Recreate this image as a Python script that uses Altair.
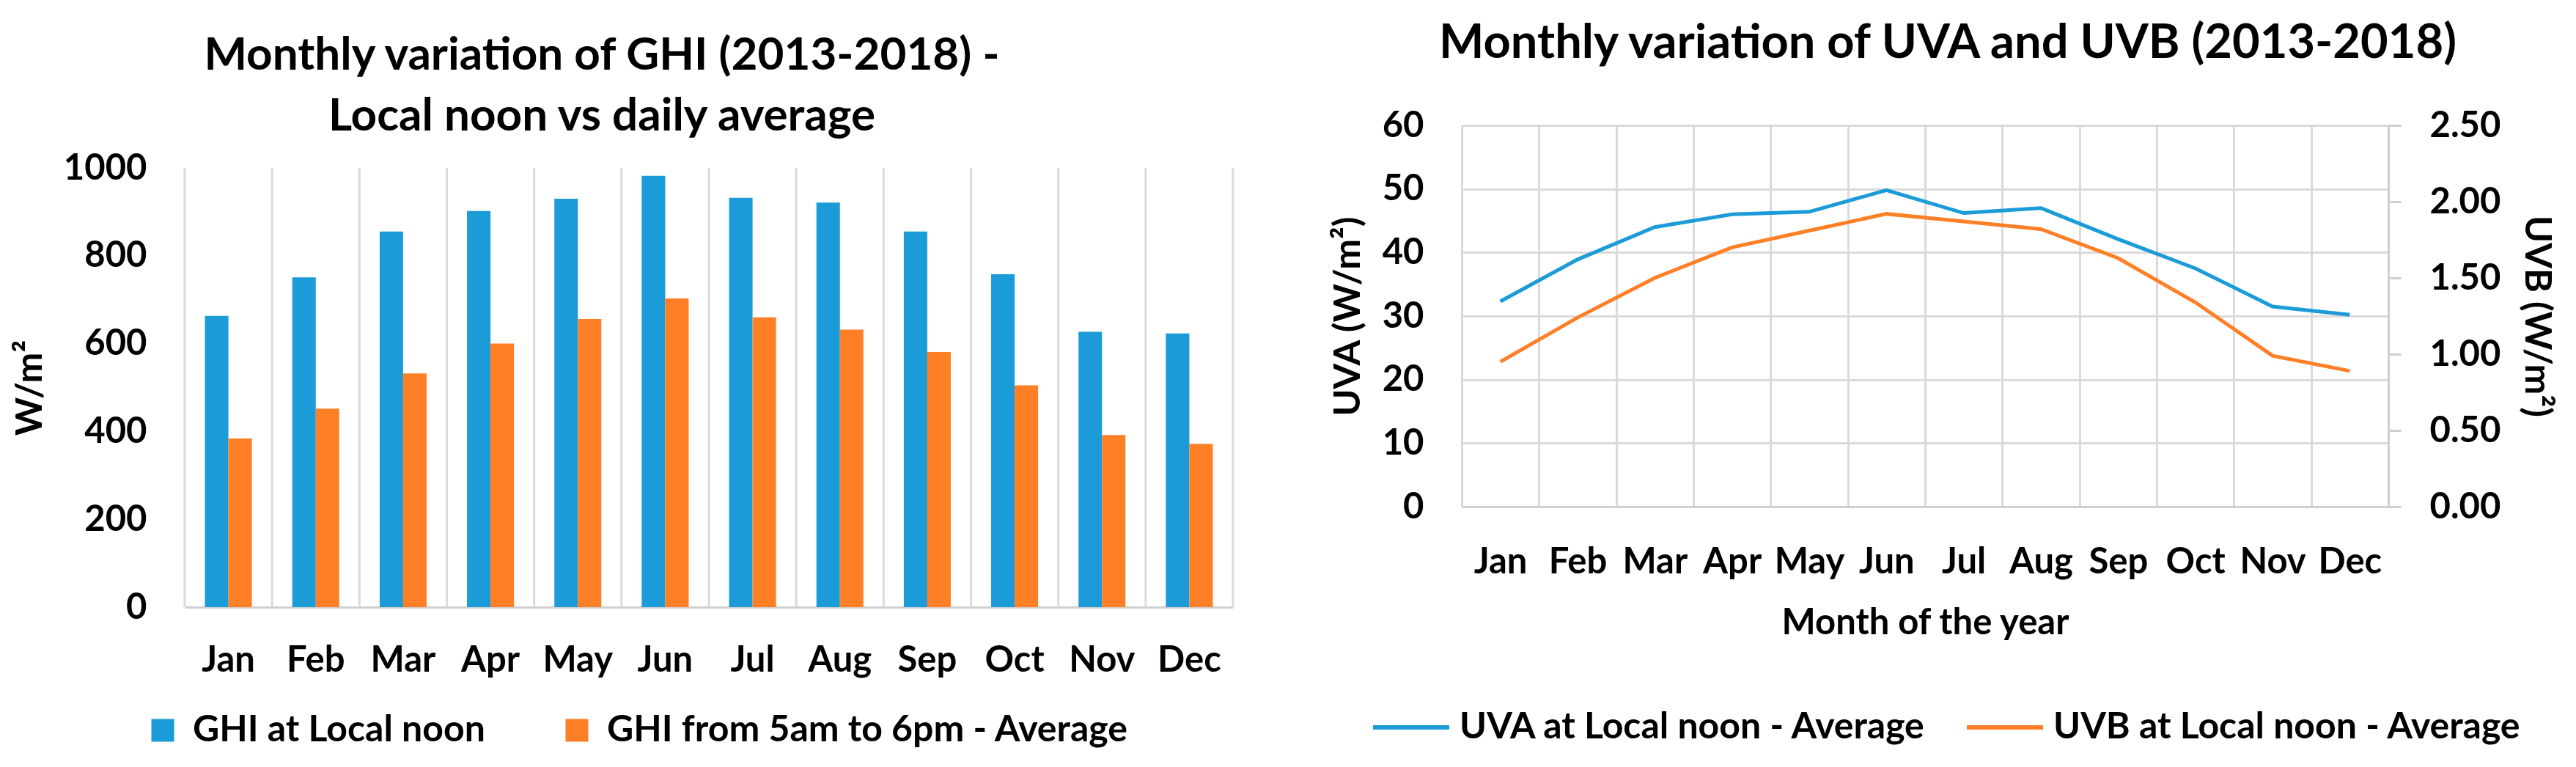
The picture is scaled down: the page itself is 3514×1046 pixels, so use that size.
import altair as alt
import pandas as pd

# ---------------- data ----------------
months = ["Jan", "Feb", "Mar", "Apr", "May", "Jun", "Jul", "Aug", "Sep", "Oct", "Nov", "Dec"]
ghi_noon = [663, 751, 855, 902, 930, 982, 932, 921, 855, 758, 627, 623]
ghi_avg = [384, 452, 532, 600, 656, 703, 660, 632, 581, 505, 392, 372]
uva_noon = [32.3, 38.9, 44.0, 46.0, 46.4, 49.8, 46.2, 47.0, 42.1, 37.5, 31.5, 30.2]
uvb_noon = [0.95, 1.24, 1.50, 1.70, 1.81, 1.92, 1.87, 1.82, 1.63, 1.34, 0.99, 0.89]

ghi_series = ["GHI at Local noon", "GHI from 5am to 6pm - Average"]
uv_series = ["UVA at Local noon - Average", "UVB at Local noon - Average"]
ghi_ticks = [0, 200, 400, 600, 800, 1000]
uva_ticks = [0, 10, 20, 30, 40, 50, 60]
uvb_ticks = [0, 0.5, 1.0, 1.5, 2.0, 2.5]
last_month = [months[-1]]

BLUE = "#1B9BD7"
ORANGE = "#FF7F27"
GRID = "#dadada"
AXISLINE = "#cfcfcf"
FONT = "Lato"

ghi_df = pd.DataFrame({
    "month": months * 2,
    "series": [ghi_series[0]] * 12 + [ghi_series[1]] * 12,
    "value": ghi_noon + ghi_avg,
})
month_df = pd.DataFrame({"month": months})
last_df = pd.DataFrame({"month": last_month})
uva_df = pd.DataFrame({"month": months, "val": uva_noon, "uvseries": [uv_series[0]] * 12})
uvb_df = pd.DataFrame({"month": months, "val": uvb_noon, "uvseries": [uv_series[1]] * 12})

# ---------------- left: GHI bars ----------------
LEFT_H = 657      # full panel height (plot occupies the lower 599 px)
LEFT_TOP = 58     # empty band above the 1000 gridline

yscale_left = alt.Scale(domain=[0, 1000], nice=False, range=[LEFT_H, LEFT_TOP])
xscale_left = alt.Scale(paddingInner=0, paddingOuter=0)
x_axis_left = alt.Axis(grid=False, ticks=False, labelAngle=0, title=None,
                       labelPadding=48, labelFontSize=49,
                       domainColor=AXISLINE, domainWidth=3)
y_axis_left = alt.Axis(values=ghi_ticks, format="d", title="W/m²", domain=False, ticks=False,
                       labelPadding=52, labelFontSize=49,
                       titleFontSize=50, titlePadding=20)

vgrid = alt.Chart(month_df).mark_rule(color=GRID, strokeWidth=3).encode(
    x=alt.X("month:N", sort=months, bandPosition=0, title=None, scale=xscale_left, axis=x_axis_left),
    y=alt.YDatum(0, scale=yscale_left, axis=y_axis_left, title="W/m²"),
    y2=alt.Y2Datum(1000),
)
vgrid_end = alt.Chart(last_df).mark_rule(color=GRID, strokeWidth=3).encode(
    x=alt.X("month:N", sort=months, bandPosition=1, title=None, scale=xscale_left, axis=x_axis_left),
    y=alt.YDatum(0, scale=yscale_left, axis=y_axis_left, title="W/m²"),
    y2=alt.Y2Datum(1000),
)

bars = alt.Chart(ghi_df).mark_bar().encode(
    x=alt.X("month:N", sort=months, title=None, scale=xscale_left, axis=x_axis_left),
    xOffset=alt.XOffset("series:N", sort=ghi_series,
                        scale=alt.Scale(paddingOuter=0.86, paddingInner=0)),
    y=alt.Y("value:Q", scale=yscale_left, axis=y_axis_left, title="W/m²"),
    color=alt.Color("series:N", sort=ghi_series,
                    scale=alt.Scale(domain=ghi_series, range=[BLUE, ORANGE]),
                    legend=alt.Legend(title=None, orient="none", direction="horizontal",
                                      legendX=-55, legendY=800,
                                      symbolType="square", symbolSize=961,
                                      symbolStrokeWidth=0, labelOffset=16,
                                      columnPadding=100, padding=0)),
)

left = alt.layer(vgrid, vgrid_end, bars).properties(
    width=1430, height=LEFT_H,
    title=alt.TitleParams(["Monthly variation of GHI (2013-2018) -", "Local noon vs daily average"],
                          fontSize=62, lineHeight=83, offset=-20, dx=-146),
)

# ---------------- right: UVA / UVB lines ----------------
xenc = alt.X("month:N", sort=months, title="Month of the year", bandPosition=0.5,
             scale=alt.Scale(type="band", paddingInner=0, paddingOuter=0),
             axis=alt.Axis(tickBand="extent", grid=True, ticks=False, labelAngle=0,
                           labelPadding=51, labelFontSize=49,
                           titleFontSize=49, titlePadding=34,
                           domainColor=AXISLINE, domainWidth=3))

color_enc = alt.Color("uvseries:N", sort=uv_series,
                      scale=alt.Scale(domain=uv_series, range=[BLUE, ORANGE]),
                      legend=alt.Legend(title=None, orient="none", direction="horizontal",
                                        legendX=-124, legendY=766,
                                        symbolType="stroke", symbolSize=10816,
                                        symbolStrokeWidth=6, labelOffset=11,
                                        columnPadding=42, padding=0))

uva_line = alt.Chart(uva_df).mark_line(strokeWidth=5).encode(
    x=xenc,
    y=alt.Y("val:Q", scale=alt.Scale(domain=[0, 60], nice=False),
            axis=alt.Axis(values=uva_ticks, title="UVA (W/m²)", orient="left",
                          domain=False, ticks=False, labelPadding=52, labelFontSize=49,
                          titleFontSize=50, titlePadding=21)),
    color=color_enc,
)
uvb_line = alt.Chart(uvb_df).mark_line(strokeWidth=5).encode(
    x=xenc,
    y=alt.Y("val:Q", scale=alt.Scale(domain=[0, 2.5], nice=False),
            axis=alt.Axis(values=uvb_ticks, format=".2f", title="UVB (W/m²)", orient="right",
                          grid=False, domain=True, domainColor=AXISLINE, domainWidth=3,
                          ticks=True, tickSize=17, tickColor=AXISLINE, tickWidth=3,
                          labelPadding=39, labelFontSize=49,
                          titleFontSize=50, titlePadding=24)),
    color=color_enc,
)

lines = alt.layer(uva_line, uvb_line).resolve_scale(y="independent").properties(
    width=1264, height=520,
    title=alt.TitleParams("Monthly variation of UVA and UVB (2013-2018)", fontSize=65,
                          offset=54, dx=31),
)

chart = alt.hconcat(left, lines, spacing=130).resolve_scale(color="independent").resolve_legend(
    color="independent"
).configure(
    font=FONT, padding={"left": 8, "top": 19, "right": 8, "bottom": 5}
).configure_view(stroke=None).configure_axis(
    labelFont=FONT, labelFontWeight="bold", labelColor="black",
    titleFont=FONT, titleFontWeight="bold", titleColor="black",
    gridColor=GRID, gridWidth=3,
).configure_legend(
    labelFont=FONT, labelFontSize=50, labelFontWeight="bold", labelColor="black", labelLimit=3000,
).configure_title(
    font=FONT, fontWeight="bold", color="black", anchor="middle",
)

chart.save("out.html", embed_options={"renderer": "svg", "actions": False})
